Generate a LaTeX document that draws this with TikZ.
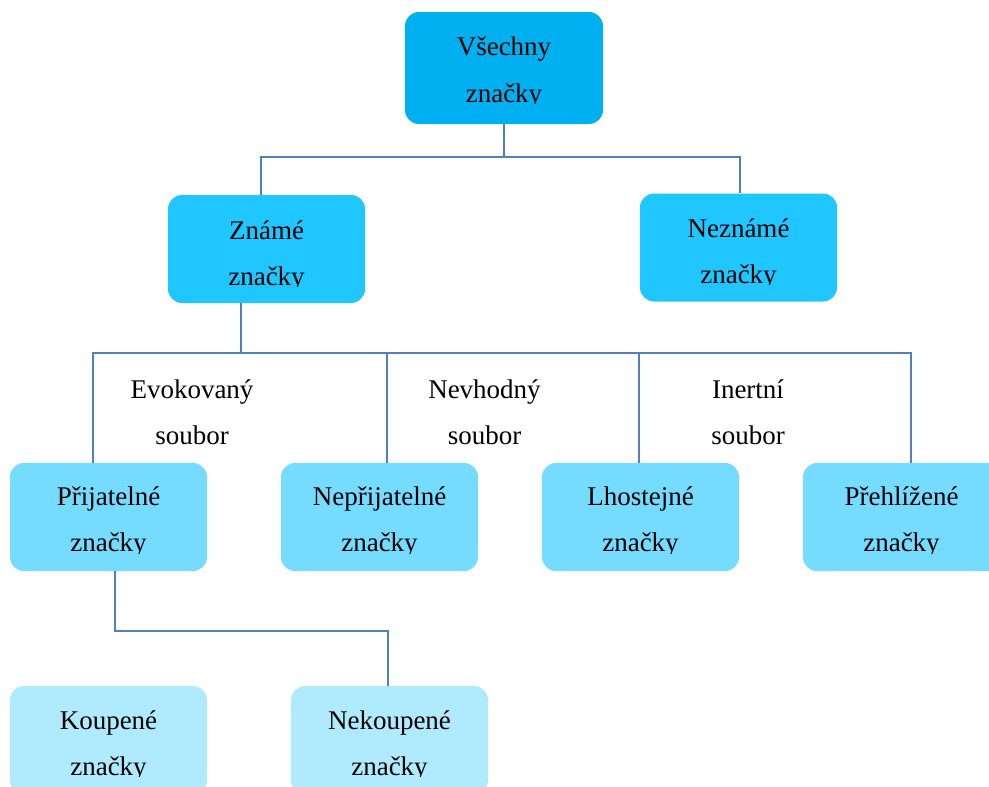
\documentclass[tikz,border=0pt]{standalone}
\usepackage{fontspec}
\setmainfont{Liberation Serif}

\definecolor{linkblue}{HTML}{4F81BD}
\definecolor{lvlA}{HTML}{00B0F0}
\definecolor{lvlB}{HTML}{1FC6FF}
\definecolor{lvlC}{HTML}{75DBFF}
\definecolor{lvlD}{HTML}{B0EAFE}

\tikzset{
  box/.style={rounded corners=14pt, minimum width=197pt, minimum height=108pt, inner sep=0pt},
  link/.style={draw=linkblue, line width=2pt},
  txt/.style={anchor=base, inner sep=0pt, font=\fontsize{27}{30}\selectfont}
}

% two text lines, cut off just below the second baseline
\newcommand\boxlines[5]{%
  \begin{scope}
    \clip ({#2-130},{#3-40}) rectangle ({#2+130},{#3+47.5});
    \node[txt] (#1-a) at (#2,#3) {#4};
    \node[txt] (#1-b) at (#2,{#3+46}) {#5};
  \end{scope}}

\begin{document}
\begin{tikzpicture}[x=1pt,y=-1pt]
\clip (0,0) rectangle (989,787);
\fill[white] (0,0) rectangle (989,787);

% boxes
\node[box, fill=lvlA, minimum width=198pt, minimum height=112pt] (all) at (504,68) {};
\node[box, fill=lvlB] (known)   at (266.5,249) {};
\node[box, fill=lvlB] (unknown) at (738.5,247.5) {};
\node[box, fill=lvlC] (accept)  at (108.5,517) {};
\node[box, fill=lvlC] (reject)  at (379.5,517) {};
\node[box, fill=lvlC] (indiff)  at (640.5,517) {};
\node[box, fill=lvlC] (ignored) at (901.5,517) {};
\node[box, fill=lvlD] (bought)  at (108.5,740) {};
\node[box, fill=lvlD] (notbought) at (389.5,740) {};

% bus lines
\coordinate (b1l) at (261,157);
\coordinate (b1r) at (740,157);
\coordinate (b2m) at (241,353);
\coordinate (b2a) at (93,353);
\coordinate (b2b) at (387,353);
\coordinate (b2c) at (639,353);
\coordinate (b2d) at (911,353);
\coordinate (b3l) at (115,631);
\coordinate (b3r) at (388,631);

\draw[link] (all.south) -- (all.south |- b1l);
\draw[link] (b1l |- known.north) -- (b1l) -- (b1r) -- (b1r |- unknown.north);

\draw[link] (b2m |- known.south) -- (b2m);
\draw[link] (b2a |- accept.north) -- (b2a) -- (b2d) -- (b2d |- ignored.north);
\draw[link] (b2b) -- (b2b |- reject.north);
\draw[link] (b2c) -- (b2c |- indiff.north);

\draw[link] (b3l |- accept.south) -- (b3l) -- (b3r) -- (b3r |- notbought.north);

% labels
\boxlines{allT}{504}{56}{Všechny}{značky}
\boxlines{knownT}{266.5}{239}{Známé}{značky}
\boxlines{unknownT}{738.5}{237}{Neznámé}{značky}
\boxlines{evok}{192}{398}{Evokovaný}{soubor}
\boxlines{nevh}{484.5}{398}{Nevhodný}{soubor}
\boxlines{inert}{748}{398}{Inertní}{soubor}
\boxlines{acceptT}{108.5}{505.5}{Přijatelné}{značky}
\boxlines{rejectT}{379.5}{505.5}{Nepřijatelné}{značky}
\boxlines{indiffT}{640.5}{505.5}{Lhostejné}{značky}
\boxlines{ignoredT}{901.5}{505.5}{Přehlížené}{značky}
\boxlines{boughtT}{108.5}{729}{Koupené}{značky}
\boxlines{notboughtT}{389.5}{729}{Nekoupené}{značky}
\end{tikzpicture}
\end{document}
